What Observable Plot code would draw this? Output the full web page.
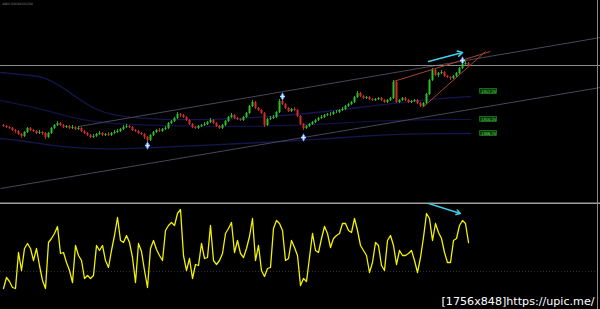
<!DOCTYPE html>
<html><head><meta charset="utf-8">
<script src="https://cdn.jsdelivr.net/npm/d3@7"></script>
<script src="https://cdn.jsdelivr.net/npm/@observablehq/plot@0.6"></script>
<style>
html,body{margin:0;padding:0;background:#000;}
#chart{position:relative;width:600px;height:309px;overflow:hidden;background:#000;}
#chart svg{display:block;}
#edge{position:absolute;left:597px;top:0;width:1px;height:309px;background:#8a8a8a;}
</style></head><body><div id="chart"><div id="edge"></div></div>
<script>
// ---- price panel data (bar index, price in points) ----
const firstOpen = 77;
const closes = [76,75,74,72,71,68,66,70,74,72,
71,69,70,69,65,69,74,77,79,77,
75,76,74,75,73,74,71,69,67,65,
66,68,69,67,68,67,69,70,71,73,
75,76,75,72,71,69,68,65,62,67,
70,72,71,73,74,79,81,84,88,87,
85,82,78,75,74,76,77,78,80,82,
79,76,74,77,81,85,87,84,83,82,
85,89,96,100,94,92,89,77,83,84,
85,90,101,98,94,91,93,92,86,78,
74,76,78,80,82,84,85,87,88,88,
90,90,92,93,96,98,100,105,109,106,
104,105,103,102,103,104,102,100,102,104,
120,100,102,104,102,100,101,102,99,96,
99,108,122,132,127,129,130,126,125,124,
126,129,134,138,139,137];
const highs = [78,77,76,75,73,72,69,71,75,75,
73,72,72,71,70,70,75,78,81,80,
78,77,77,77,76,76,75,72,70,68,
68,69,71,70,69,70,70,72,73,74,
77,78,77,76,73,72,70,69,66,68,
71,73,74,74,76,80,82,85,90,89,
88,86,83,79,76,77,78,80,81,84,
83,80,77,78,82,86,89,88,85,84,
86,90,97,102,101,95,93,90,84,86,
87,91,103,102,99,95,94,95,93,87,
79,77,79,81,83,85,87,88,89,90,
91,92,93,95,97,99,101,106,111,110,
107,106,106,104,104,105,105,103,103,105,
122,121,103,105,105,103,102,103,103,100,
100,109,123,134,133,130,132,131,127,126,
127,130,135,140,141,140];
const lows = [75,74,73,71,69,67,64,65,69,71,
70,68,68,67,63,64,68,73,76,76,
74,74,73,73,72,72,70,68,66,64,
64,65,67,66,66,66,66,68,69,70,
72,74,74,71,70,68,67,63,60,61,
66,69,70,70,72,73,78,80,83,85,
84,81,77,74,73,73,75,76,77,79,
78,75,73,73,76,80,84,83,82,81,
81,84,88,95,93,91,88,75,76,82,
83,84,89,97,93,90,90,91,85,77,
72,73,75,77,79,81,83,84,86,86,
87,89,89,91,92,95,97,99,104,105,
103,103,102,101,101,102,101,99,99,101,
103,99,99,101,101,99,99,100,98,95,
95,98,107,121,126,125,128,125,124,122,
123,125,128,133,137,136];

// Bollinger-style envelope curves (bar, value)
const bandUpperBar = [-1,9,13,19,25.7,32.3,42.3,65.7,85.7,105.7,125.7,145.7,155.7];
const bandUpperVal = [130,127,126,117,102,90,84,82,85,90,98,104,106];
const bandMidBar = [-1,12.3,25.7,39,65.7,85.7,105.7,125.7,145.7,155.7];
const bandMidVal = [102,94,82,78,76,76,78,82,83,83];
const bandLowBar = [-1,5.7,15.7,25.7,39,65.7,85.7,105.7,125.7,145.7,155.7];
const bandLowVal = [64,62,57,54,53,57,60,63,68,69,69];

// trend channel, wedge, level
const channelLines = [
  {x1:25, y1:76, x2:199, y2:165},
  {x1:-1, y1:14, x2:199, y2:115}
];
const wedgeLines = [
  {x1:130, y1:121, x2:162.3, y2:151},
  {x1:139.7, y1:95, x2:160.7, y2:151}
];
const horizontalLevel = 137;
const priceArrow = [{x1:141.7, y1:141, x2:153, y2:150}];
const fractalBars = [48, 93, 100, 153];
const fractalVals = [57, 106, 65, 142];
const levelLabelBar = 161.7;
const levelLabelVals = [111, 83, 69];
const levelLabelText = ["1317.25", "1310.25", "1306.75"];
const titleText = "XAUUSD,H1  1323.60 1324.05 1323.12 1323.48";

// ---- oscillator panel data ----
const oscValues = [21,32,28,22,21,57,39,61,66,61,
49,61,44,29,21,67,71,76,83,56,
57,47,39,27,64,54,49,31,34,31,
34,64,59,64,49,42,59,74,92,69,
67,74,67,52,27,66,58,39,22,61,
69,60,54,49,79,84,87,84,96,100,
54,39,51,31,45,44,66,51,52,84,
49,45,49,56,76,81,87,57,69,56,
52,61,73,91,49,64,39,33,41,42,
81,89,86,79,49,51,69,62,54,24,
31,28,52,76,59,57,71,83,76,62,
71,74,76,86,86,79,77,91,79,64,
59,54,37,47,67,64,44,39,69,74,
64,45,59,54,54,56,59,49,37,52,
72,96,91,69,86,77,71,57,47,47,
69,71,84,89,86,67];
const oscLevel = 38;
const oscSeparator = 106.3;
const oscArrow = [{x1:141.7, y1:106, x2:152.3, y2:96}];
const watermark = "[1756x848]https://upic.me/";

// ---- build tables ----
const bars = closes.map((c, i) => ({i, open: i === 0 ? firstOpen : closes[i - 1], close: c, high: highs[i], low: lows[i]}));
const toPts = (bs, vs) => bs.map((b, k) => ({i: b, v: vs[k]}));
const bandU = toPts(bandUpperBar, bandUpperVal);
const bandM = toPts(bandMidBar, bandMidVal);
const bandL = toPts(bandLowBar, bandLowVal);
const fractals = toPts(fractalBars, fractalVals);
const levelLabels = levelLabelVals.map((v, k) => ({i: levelLabelBar, v, label: levelLabelText[k]}));
const osc = oscValues.map((w, i) => ({i, w}));

const up = "#27c227", down = "#d92a2a";
const candleColor = d => d.close >= d.open ? up : down;

const topPlot = Plot.plot({
  width: 600, height: 202, margin: 0,
  x: {domain: [-1, 199], axis: null},
  y: {domain: [0, 202], axis: null},
  style: {background: "#000", overflow: "visible"},
  marks: [
    Plot.line(bandU, {x: "i", y: "v", stroke: "#16164f", strokeWidth: 1.3, curve: "basis"}),
    Plot.line(bandM, {x: "i", y: "v", stroke: "#121248", strokeWidth: 1.2, curve: "basis"}),
    Plot.line(bandL, {x: "i", y: "v", stroke: "#16164f", strokeWidth: 1.3, curve: "basis"}),
    Plot.link(channelLines, {x1: "x1", y1: "y1", x2: "x2", y2: "y2", stroke: "#474758", strokeWidth: 1}),
    Plot.ruleY([horizontalLevel], {stroke: "#8c8c8c", strokeWidth: 1}),
    Plot.ruleX(bars, {x: "i", y1: "low", y2: "high", stroke: candleColor, strokeWidth: 0.9}),
    Plot.ruleX(bars, {x: "i", y1: "open", y2: "close", stroke: candleColor, strokeWidth: 2}),
    Plot.link(wedgeLines, {x1: "x1", y1: "y1", x2: "x2", y2: "y2", stroke: "#a8442c", strokeWidth: 1}),
    Plot.arrow(priceArrow, {x1: "x1", y1: "y1", x2: "x2", y2: "y2", stroke: "#3fd0e8", strokeWidth: 1.6, headLength: 5}),
    Plot.dot(fractals, {x: "i", y: "v", symbol: "diamond", fill: "#6fa8ff", r: 2.6}),
    Plot.dot(fractals, {x: "i", y: "v", symbol: "plus", stroke: "#e6f0ff", strokeWidth: 0.8, r: 1.6}),
    Plot.rect(levelLabels, {x1: d => d.i - 2.8, x2: d => d.i + 2.8, y1: d => d.v - 2.4, y2: d => d.v + 2.4, fill: "#0b3a0b", stroke: "#2a9a2a", strokeWidth: 0.6}),
    Plot.text(levelLabels, {x: "i", y: "v", text: "label", fill: "#6fe06f", fontSize: 3.6, fontFamily: "DejaVu Sans"}),
    Plot.text([titleText], {frameAnchor: "top-left", dx: 2, dy: 2, fill: "#b0b0b0", fontSize: 3.2, textAnchor: "start", lineAnchor: "top", fontFamily: "DejaVu Sans"})
  ]
});

const botPlot = Plot.plot({
  width: 600, height: 107, margin: 0,
  x: {domain: [-1, 199], axis: null},
  y: {domain: [0, 107], axis: null},
  style: {background: "#000"},
  marks: [
    Plot.ruleY([oscLevel], {stroke: "#303030", strokeDasharray: "1,2"}),
    Plot.ruleY([oscSeparator], {stroke: "#a0a0a0", strokeWidth: 1.6}),
    Plot.line(osc, {x: "i", y: "w", stroke: "#f2f200", strokeWidth: 1.3}),
    Plot.arrow(oscArrow, {x1: "x1", y1: "y1", x2: "x2", y2: "y2", stroke: "#3fc8e0", strokeWidth: 1.4, headLength: 5}),
    Plot.text([watermark], {frameAnchor: "bottom-right", dx: -6, dy: -5, fill: "#ffffff", fontSize: 11, fontFamily: "DejaVu Sans", textAnchor: "end"})
  ]
});

const chart = document.getElementById("chart");
chart.insertBefore(botPlot, chart.firstChild);
chart.insertBefore(topPlot, botPlot);
d3.select(botPlot).selectAll("text").filter(function(){ return this.textContent === watermark; })
  .attr("textLength", 153).attr("lengthAdjust", "spacingAndGlyphs");
d3.select(topPlot).selectAll("text").filter(function(){ return this.textContent === titleText; })
  .attr("textLength", 30).attr("lengthAdjust", "spacingAndGlyphs");
</script>
</body></html>
